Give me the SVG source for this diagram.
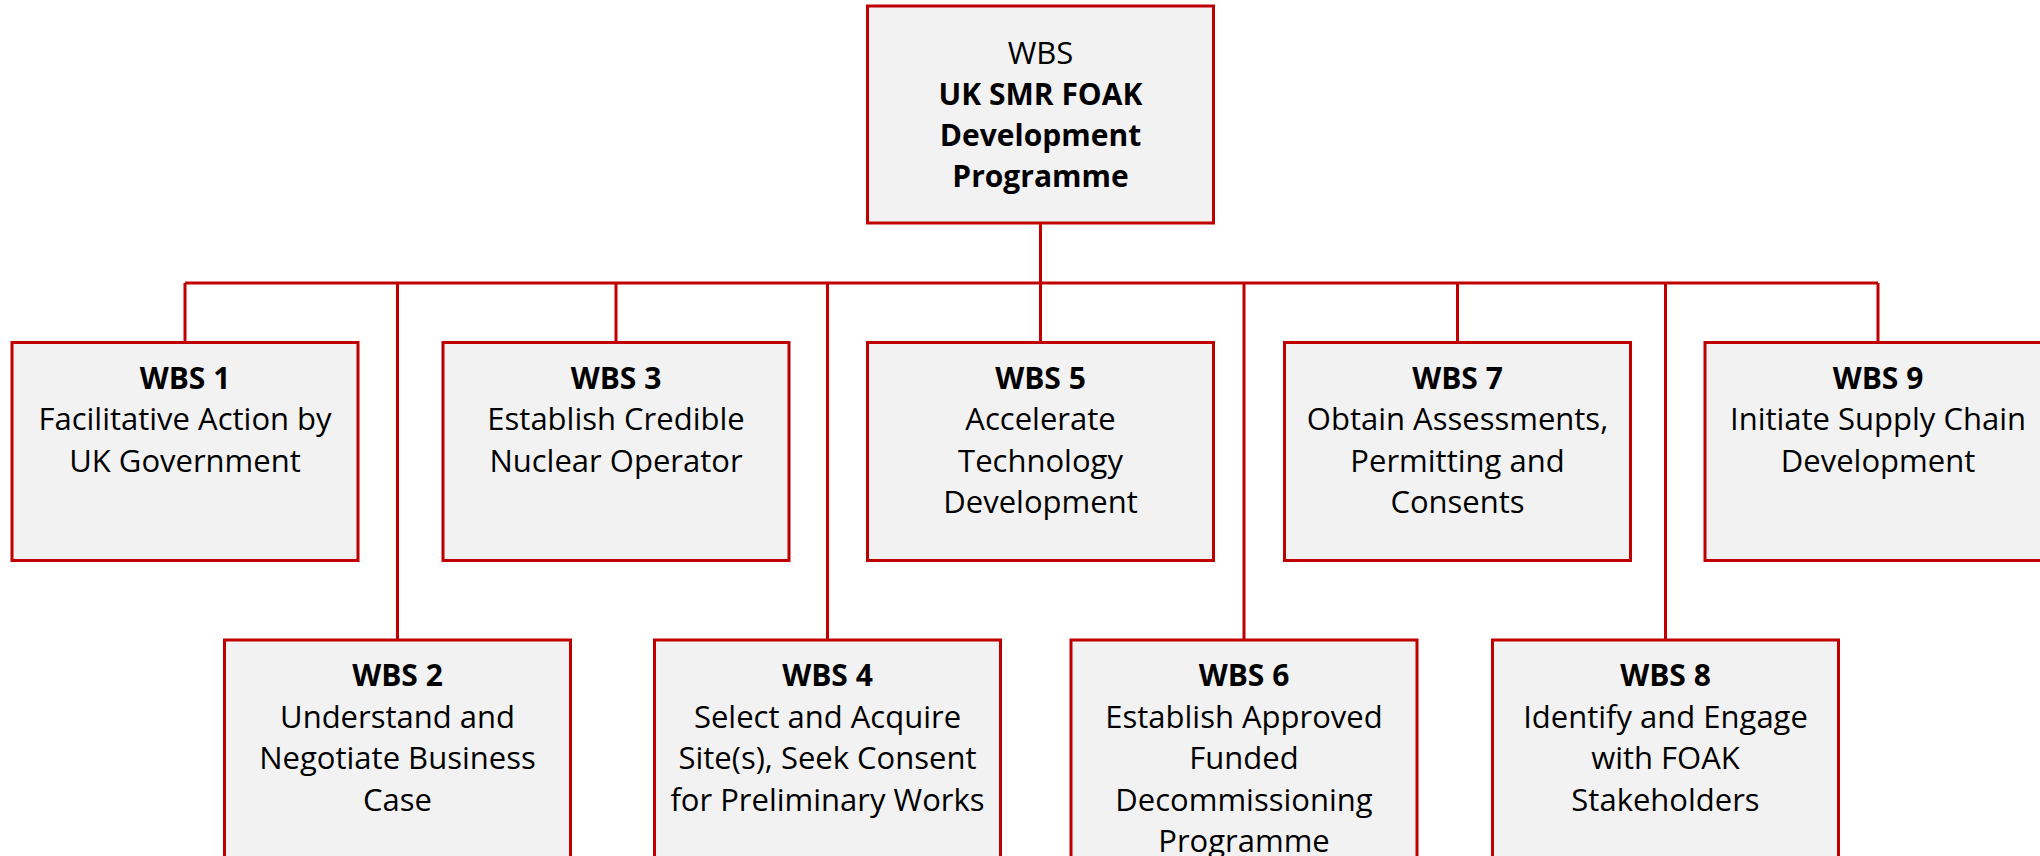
<svg xmlns="http://www.w3.org/2000/svg" width="2040" height="856" viewBox="0 0 2040 856">
  <style>
    .box { fill: #F2F2F2; stroke: #C00000; stroke-width: 3; }
    .conn { fill: none; stroke: #C00000; stroke-width: 3; }
    text { font-family: "Open Sans", "Liberation Sans", sans-serif; font-size: 31px; fill: #000; text-anchor: middle; }
    .b { font-weight: bold; font-size: 30px; }
  </style>
  <rect width="2040" height="856" fill="#FFFFFF"/>

  <!-- tree connectors -->
  <g id="connectors">
    <path class="conn" d="M1040.5 223 V283"/>
    <path class="conn" d="M185 283 H1878"/>
    <path class="conn" d="M185 283 V342.5 M616 283 V342.5 M1040.5 283 V342.5 M1457.5 283 V342.5 M1878 283 V342.5"/>
    <path class="conn" d="M397.5 283 V640 M827.5 283 V640 M1244 283 V640 M1665.5 283 V640"/>
  </g>

  <!-- root -->
  <g id="wbs-root">
    <rect class="box" x="867.5" y="6" width="346" height="217"/>
    <text x="1040.5" y="63.5">WBS</text>
    <text class="b" x="1040.5" y="104.5">UK SMR FOAK</text>
    <text class="b" x="1040.5" y="145.5">Development</text>
    <text class="b" x="1040.5" y="186.5">Programme</text>
  </g>

  <!-- upper row -->
  <g id="wbs-1">
    <rect class="box" x="12" y="342.5" width="346" height="218"/>
    <text class="b" x="185" y="388.5">WBS 1</text>
    <text x="185" y="430">Facilitative Action by</text>
    <text x="185" y="471.5">UK Government</text>
  </g>
  <g id="wbs-3">
    <rect class="box" x="443" y="342.5" width="346" height="218"/>
    <text class="b" x="616" y="388.5">WBS 3</text>
    <text x="616" y="430">Establish Credible</text>
    <text x="616" y="471.5">Nuclear Operator</text>
  </g>
  <g id="wbs-5">
    <rect class="box" x="867.5" y="342.5" width="346" height="218"/>
    <text class="b" x="1040.5" y="388.5">WBS 5</text>
    <text x="1040.5" y="430">Accelerate</text>
    <text x="1040.5" y="471.5">Technology</text>
    <text x="1040.5" y="513">Development</text>
  </g>
  <g id="wbs-7">
    <rect class="box" x="1284.5" y="342.5" width="346" height="218"/>
    <text class="b" x="1457.5" y="388.5">WBS 7</text>
    <text x="1457.5" y="430">Obtain Assessments,</text>
    <text x="1457.5" y="471.5">Permitting and</text>
    <text x="1457.5" y="513">Consents</text>
  </g>
  <g id="wbs-9">
    <rect class="box" x="1705" y="342.5" width="346" height="218"/>
    <text class="b" x="1878" y="388.5">WBS 9</text>
    <text x="1878" y="430">Initiate Supply Chain</text>
    <text x="1878" y="471.5">Development</text>
  </g>

  <!-- lower row -->
  <g id="wbs-2">
    <rect class="box" x="224.5" y="640" width="346" height="218"/>
    <text class="b" x="397.5" y="686">WBS 2</text>
    <text x="397.5" y="727.5">Understand and</text>
    <text x="397.5" y="769">Negotiate Business</text>
    <text x="397.5" y="810.5">Case</text>
  </g>
  <g id="wbs-4">
    <rect class="box" x="654.5" y="640" width="346" height="218"/>
    <text class="b" x="827.5" y="686">WBS 4</text>
    <text x="827.5" y="727.5">Select and Acquire</text>
    <text x="827.5" y="769">Site(s), Seek Consent</text>
    <text x="827.5" y="810.5">for Preliminary Works</text>
  </g>
  <g id="wbs-6">
    <rect class="box" x="1071" y="640" width="346" height="218"/>
    <text class="b" x="1244" y="686">WBS 6</text>
    <text x="1244" y="727.5">Establish Approved</text>
    <text x="1244" y="769">Funded</text>
    <text x="1244" y="810.5">Decommissioning</text>
    <text x="1244" y="852">Programme</text>
  </g>
  <g id="wbs-8">
    <rect class="box" x="1492.5" y="640" width="346" height="218"/>
    <text class="b" x="1665.5" y="686">WBS 8</text>
    <text x="1665.5" y="727.5">Identify and Engage</text>
    <text x="1665.5" y="769">with FOAK</text>
    <text x="1665.5" y="810.5">Stakeholders</text>
  </g>
</svg>
